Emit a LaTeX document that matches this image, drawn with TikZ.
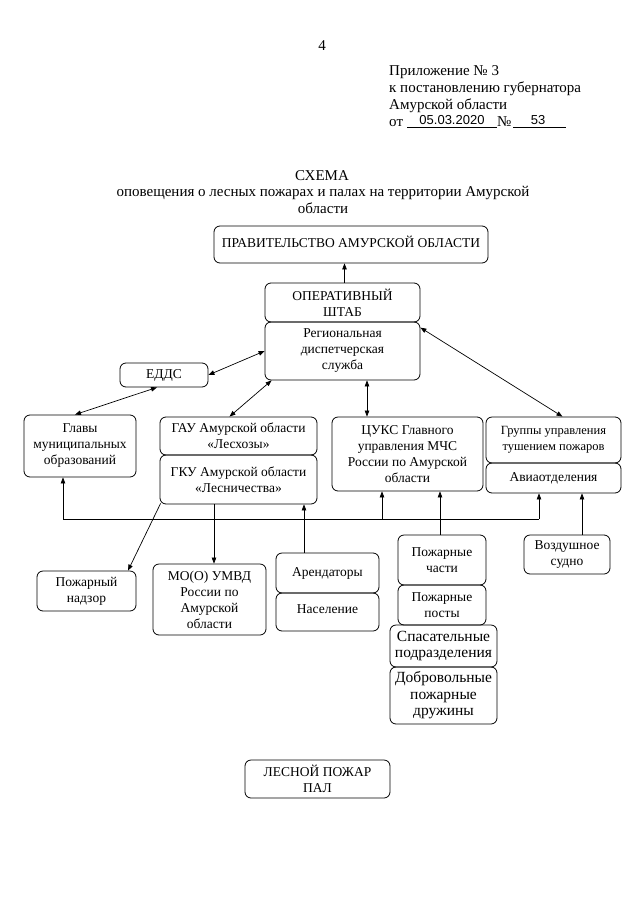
\documentclass[tikz,border=0pt]{standalone}
\usepackage{fontspec}
\setmainfont{Liberation Serif}
\newfontfamily\handfont{Liberation Sans}
\usetikzlibrary{arrows.meta}
\newcommand\bx[7][]{\node[box, minimum width={(#5-#3)*1pt}, minimum height={(#6-#4)*1pt}, #1] (#2) at ({(#3+#5)/2},{(#4+#6)/2}) {#7};}
\begin{document}
\begin{tikzpicture}[x=1pt,y=-1pt,
  box/.style={draw, rounded corners=6pt, align=center, inner sep=0pt, font=\fontsize{13.5}{16}\selectfont, line width=0.8pt},
  small/.style={font=\fontsize{12.5}{16}\selectfont},
  big/.style={font=\fontsize{15.5}{16.5}\selectfont},
  arr/.style={-{Triangle[length=6pt,width=4.5pt]}, line width=0.7pt},
  dbl/.style={{Triangle[length=6pt,width=4.5pt]}-{Triangle[length=6pt,width=4.5pt]}, line width=0.7pt},
  ln/.style={line width=0.7pt},
  hdr/.style={inner sep=0pt, font=\fontsize{15}{17}\selectfont},
  hand/.style={inner sep=0pt, font=\handfont\fontsize{13}{15}\selectfont}]
\useasboundingbox (0,0) rectangle (640,905);

% header texts
\node[hdr, anchor=base] (pg) at (322,50) {4};
\node[hdr, anchor=base west] (ap1) at (389,75) {Приложение № 3};
\node[hdr, anchor=base west] (ap2) at (389,92) {к постановлению губернатора};
\node[hdr, anchor=base west] (ap3) at (389,109) {Амурской области};
\node[hdr, anchor=base west] (ap4) at (389,126) {от};
\node[hand, anchor=base] (dt) at (452,124) {05.03.2020};
\node[hdr, anchor=base west] (nm) at (497,126) {№};
\node[hand, anchor=base] (nn) at (538,124) {53};
\coordinate (u1) at (407,127); \coordinate (u2) at (497,127);
\coordinate (u3) at (513,127); \coordinate (u4) at (566,127);
\draw[line width=0.6pt] (u1) -- (u2);
\draw[line width=0.6pt] (u3) -- (u4);

\node[hdr, anchor=base] (t1) at (322,180) {СХЕМА};
\node[hdr, anchor=base] (t2) at (323,196) {оповещения о лесных пожарах и палах на территории Амурской};
\node[hdr, anchor=base] (t3) at (323,213) {области};

% boxes
\bx{prav}{214}{226}{488}{263}{\raisebox{6pt}{ПРАВИТЕЛЬСТВО АМУРСКОЙ ОБЛАСТИ}}
\bx{osh}{265}{283}{420}{322}{ОПЕРАТИВНЫЙ\\ШТАБ}
\bx{rds}{265}{322}{420}{380}{Региональная\\диспетчерская\\служба}
\bx{edds}{120}{363}{208}{387}{ЕДДС}
\bx{glavy}{24}{415}{136}{477}{Главы\\муниципальных\\образований}
\bx{gau}{160}{417}{317}{455}{ГАУ Амурской области\\«Лесхозы»}
\bx{gku}{160}{455}{317}{504}{ГКУ Амурской области\\«Лесничества»}
\bx{cuks}{332}{417}{483}{491}{ЦУКС Главного\\управления МЧС\\России по Амурской\\области}
\bx[small]{grup}{486}{417}{621}{463}{Группы управления\\тушением пожаров}
\bx{avia}{486}{463}{621}{493}{Авиаотделения}
\bx{nadzor}{37}{571}{136}{611}{Пожарный\\надзор}
\bx{umvd}{153}{564}{266}{635}{МО(О) УМВД\\России по\\Амурской\\области}
\bx{arend}{276}{553}{379}{593}{Арендаторы}
\bx{nasel}{276}{593}{379}{631}{\raisebox{5pt}{Население}}
\bx{chasti}{398}{535}{486}{585}{Пожарные\\части}
\bx{posty}{398}{585}{486}{625}{Пожарные\\посты}
\bx[big]{spas}{390}{625}{497}{667}{Спасательные\\подразделения}
\bx[big]{dobr}{390}{667}{497}{724}{Добровольные\\пожарные\\дружины}
\bx{vozd}{524}{535}{610}{574}{Воздушное\\судно}
\bx{les}{245}{760}{390}{798}{ЛЕСНОЙ ПОЖАР\\ПАЛ}

% connectors
\draw[arr] ([xshift=2]osh.north) -- ([xshift=2]osh.north |- prav.south);
\draw[dbl] (edds.east) -- (rds.west);
\draw[dbl] ([xshift=-7]edds.south) -- ([xshift=-5]glavy.north);
\draw[dbl] ([xshift=7]rds.south west) -- ([xshift=-9]gau.north);
\draw[dbl] ([xshift=24.5]rds.south) -- ([xshift=24.5]rds.south |- cuks.north);
\draw[dbl] ([yshift=-6]rds.north east) -- ([xshift=9]grup.north);

\coordinate (bL) at (63,519);
\coordinate (bC) at (382,519);
\coordinate (bR) at (539,519);
\draw[ln] (bL) -- (bR);
\draw[arr] (bL) -- (bL |- glavy.south);
\draw[arr] (bC) -- (bC |- cuks.south);
\draw[arr] (bR) -- (bR |- avia.south);
\draw[arr] ([xshift=-23.5]arend.north) -- ([xshift=-23.5]arend.north |- gku.south);
\draw[arr] ([xshift=-24.5]gku.south) -- ([xshift=-24.5]gku.south |- umvd.north);
\draw[arr] ([xshift=1,yshift=1]gku.south west) -- ([xshift=41.5]nadzor.north);
\draw[arr] ([xshift=-2]chasti.north) -- ([xshift=-2]chasti.north |- cuks.south);
\draw[arr] ([xshift=15]vozd.north) -- ([xshift=15]vozd.north |- avia.south);
\end{tikzpicture}
\end{document}
